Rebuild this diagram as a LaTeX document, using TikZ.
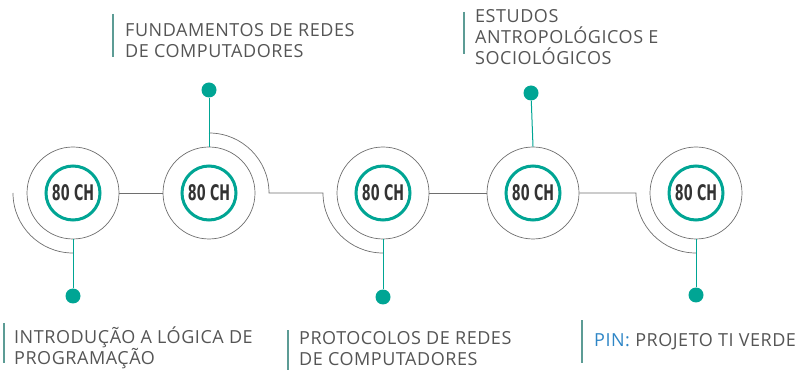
\documentclass[tikz,border=0pt]{standalone}
\usepackage{fontspec}
\setmainfont{Open Sans}[LetterSpace=3]
\newfontfamily\chfont{DejaVu Sans Condensed}[FakeStretch=0.66]
\usepackage{tikz}
\usetikzlibrary{positioning, calc}
\definecolor{trailteal}{HTML}{00A594}
\definecolor{trailgray}{HTML}{6E6E6E}
\definecolor{bargray}{HTML}{5C9C95}
\definecolor{labelgray}{HTML}{555555}
\definecolor{pinblue}{HTML}{2F86C6}

\begin{document}
\begin{tikzpicture}[x=1pt, y=1pt,
  ring/.style={circle, draw=trailgray, line width=0.7pt, minimum size=92pt, inner sep=0pt},
  hours/.style={circle, draw=trailteal, line width=3pt, minimum size=54pt, inner sep=0pt,
    font=\chfont\bfseries\fontsize{21.5}{21.5}\selectfont, text=black!80},
  link/.style={trailgray, line width=0.7pt},
  stem/.style={trailteal, line width=1pt},
  dot/.style={circle, fill=trailteal, minimum size=15pt, inner sep=0pt},
  course/.style={font=\fontsize{18}{21}\selectfont, text=labelgray, align=left, inner sep=0pt, anchor=base west},
  bar/.style={bargray, line width=1.2pt}]
  \useasboundingbox (0,0) rectangle (811,-371);

  % Semester rings
  \node[ring] (c1) at (73,-193) {};
  \node[ring] (c2) at (209,-193) {};
  \node[ring] (c3) at (383,-193) {};
  \node[ring] (c4) at (533,-193) {};
  \node[ring] (c5) at (696,-193) {};
  \foreach \c in {c1,c2,c3,c4,c5}
    \node[hours] at (\c) {80 CH};

  % Trail between rings
  \draw[link] (c1.east) -- (c2.west);
  \draw[link] (c3.east) -- (c4.west);
  \draw[link] ([xshift=-60pt]c1.center) arc[start angle=180, end angle=270, radius=60pt];
  \draw[link] ([yshift=60pt]c2.center) arc[start angle=90, end angle=0, radius=60pt]
    -- ([xshift=-60pt]c3.center) arc[start angle=180, end angle=270, radius=60pt];
  \draw[link] (c4.east) -- ([xshift=-60pt]c5.center) arc[start angle=180, end angle=270, radius=60pt];

  % Dots and stems
  \node[dot] (d1) at (73,-296) {};
  \node[dot] (d2) at (209,-90) {};
  \node[dot] (d3) at (383,-297) {};
  \node[dot] (d4) at (531,-93) {};
  \node[dot] (d5) at (696,-295) {};
  \draw[stem] (c1.south) -- (d1);
  \draw[stem] (c2.north) -- (d2);
  \draw[stem] (c3.south) -- (d3);
  \draw[stem] (c4.north) -- (d4);
  \draw[stem] (c5.south) -- (d5);

  % Course names (anchored at the last baseline)
  \node[course] (l2) at (125,-58) {FUNDAMENTOS DE REDES\\DE COMPUTADORES};
  \node[course] (l4) at (475,-65) {ESTUDOS\\ANTROPOLÓGICOS E\\SOCIOLÓGICOS};
  \node[course] (l1) at (14,-364) {INTRODUÇÃO A LÓGICA DE\\PROGRAMAÇÃO};
  \node[course] (l3) at (299,-365) {PROTOCOLOS DE REDES\\DE COMPUTADORES};
  \node[course] (l5) at (594,-346) {\textcolor{pinblue}{PIN:} PROJETO TI VERDE};

  % Side bars
  \draw[bar] (113,-14) -- (113,-57);
  \draw[bar] (464,-12) -- (464,-54);
  \draw[bar] (4,-323) -- (4,-363);
  \draw[bar] (288,-330) -- (288,-370);
  \draw[bar] (582,-320) -- (582,-363);
\end{tikzpicture}
\end{document}
